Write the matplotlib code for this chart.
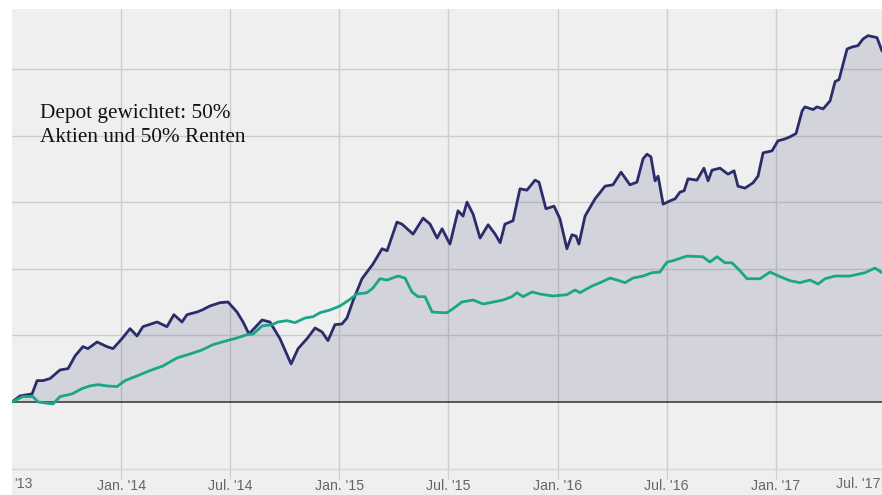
import numpy as np
import matplotlib.pyplot as plt
from matplotlib.patches import Rectangle

# time in decimal years, values in %
depot_t = [2013.500, 2013.537, 2013.592, 2013.615, 2013.642, 2013.674, 2013.720, 2013.757,
           2013.789, 2013.825, 2013.848, 2013.890, 2013.935, 2013.963, 2014.004, 2014.041,
           2014.073, 2014.100, 2014.165, 2014.210, 2014.242, 2014.279, 2014.302, 2014.348,
           2014.371, 2014.407, 2014.453, 2014.490, 2014.531, 2014.559, 2014.586, 2014.646,
           2014.682, 2014.728, 2014.779, 2014.811, 2014.852, 2014.889, 2014.921, 2014.948,
           2014.980, 2015.012, 2015.035, 2015.063, 2015.104, 2015.154, 2015.196, 2015.219,
           2015.264, 2015.287, 2015.338, 2015.384, 2015.416, 2015.448, 2015.471, 2015.507,
           2015.544, 2015.567, 2015.585, 2015.613, 2015.645, 2015.682, 2015.714, 2015.737,
           2015.759, 2015.796, 2015.828, 2015.860, 2015.897, 2015.915, 2015.947, 2015.984,
           2016.011, 2016.043, 2016.066, 2016.085, 2016.098, 2016.126, 2016.172, 2016.218,
           2016.254, 2016.291, 2016.332, 2016.364, 2016.392, 2016.410, 2016.428, 2016.447,
           2016.461, 2016.484, 2016.516, 2016.539, 2016.561, 2016.580, 2016.598, 2016.639,
           2016.671, 2016.690, 2016.708, 2016.745, 2016.781, 2016.809, 2016.827, 2016.859,
           2016.896, 2016.919, 2016.942, 2016.983, 2017.010, 2017.043, 2017.065, 2017.093,
           2017.121, 2017.134, 2017.171, 2017.189, 2017.217, 2017.249, 2017.272, 2017.290,
           2017.327, 2017.350, 2017.377, 2017.400, 2017.423, 2017.464, 2017.487]
depot_v = [0.0, 0.9, 1.2, 3.2, 3.2, 3.5, 4.8, 5.0,
           6.9, 8.3, 8.0, 9.0, 8.3, 8.0, 9.5, 11.0,
           9.9, 11.3, 12.0, 11.3, 13.1, 12.0, 13.1, 13.5,
           13.8, 14.4, 14.9, 15.0, 13.5, 12.0, 10.2, 12.3,
           12.0, 9.5, 5.7, 8.0, 9.5, 11.1, 10.5, 9.2,
           11.6, 11.7, 12.6, 15.2, 18.5, 20.7, 23.0, 22.7,
           27.0, 26.7, 25.2, 27.6, 26.7, 24.6, 26.0, 23.7,
           28.7, 27.9, 30.0, 28.2, 24.6, 26.6, 25.2, 23.9,
           26.7, 27.2, 32.0, 31.8, 33.3, 33.0, 29.0, 29.4,
           27.5, 23.0, 25.1, 24.9, 23.7, 27.9, 30.5, 32.4,
           32.6, 34.5, 32.6, 33.0, 36.5, 37.2, 36.8, 33.2,
           33.9, 29.7, 30.2, 30.5, 31.5, 31.7, 33.5, 33.3,
           35.1, 33.2, 34.8, 35.1, 34.2, 34.7, 32.4, 32.1,
           32.9, 33.9, 37.4, 37.7, 39.2, 39.5, 39.8, 40.3,
           43.7, 44.3, 43.9, 44.3, 44.0, 45.2, 48.1, 48.4,
           53.0, 53.3, 53.5, 54.5, 55.0, 54.7, 52.7]

bench_t = [2013.500, 2013.550, 2013.596, 2013.619, 2013.660, 2013.688, 2013.720, 2013.775,
           2013.821, 2013.857, 2013.894, 2013.935, 2013.981, 2014.018, 2014.073, 2014.132,
           2014.192, 2014.256, 2014.316, 2014.371, 2014.421, 2014.485, 2014.531, 2014.577,
           2014.605, 2014.646, 2014.692, 2014.719, 2014.760, 2014.797, 2014.843, 2014.880,
           2014.912, 2014.957, 2015.003, 2015.040, 2015.081, 2015.127, 2015.154, 2015.186,
           2015.219, 2015.269, 2015.301, 2015.333, 2015.361, 2015.393, 2015.425, 2015.471,
           2015.494, 2015.521, 2015.562, 2015.613, 2015.659, 2015.691, 2015.750, 2015.791,
           2015.814, 2015.842, 2015.883, 2015.920, 2015.979, 2016.043, 2016.080, 2016.103,
           2016.158, 2016.195, 2016.241, 2016.273, 2016.309, 2016.346, 2016.392, 2016.433,
           2016.469, 2016.502, 2016.529, 2016.593, 2016.666, 2016.698, 2016.731, 2016.767,
           2016.799, 2016.836, 2016.868, 2016.928, 2016.974, 2017.020, 2017.066, 2017.111,
           2017.157, 2017.194, 2017.226, 2017.272, 2017.340, 2017.409, 2017.455, 2017.487]
bench_v = [0.0, 0.8, 0.8, 0.0, -0.2, -0.3, 0.8, 1.2,
           2.0, 2.4, 2.6, 2.4, 2.3, 3.2, 3.9, 4.7,
           5.4, 6.6, 7.2, 7.8, 8.6, 9.2, 9.6, 10.1,
           10.2, 11.4, 11.6, 12.0, 12.2, 11.9, 12.6, 12.8,
           13.4, 13.8, 14.4, 15.2, 16.2, 16.4, 17.1, 18.5,
           18.3, 18.9, 18.6, 16.5, 15.8, 15.8, 13.5, 13.4,
           13.4, 14.0, 15.0, 15.3, 14.7, 14.9, 15.3, 15.8,
           16.4, 15.8, 16.5, 16.2, 15.9, 16.1, 16.8, 16.4,
           17.4, 17.9, 18.6, 18.3, 17.9, 18.6, 18.9, 19.4,
           19.5, 21.0, 21.2, 21.9, 21.8, 21.0, 21.8, 20.9,
           20.9, 19.7, 18.5, 18.5, 19.5, 18.8, 18.2, 17.9,
           18.3, 17.7, 18.5, 18.9, 18.9, 19.4, 20.1, 19.4]

tick_pos = [2014.0, 2014.5, 2015.0, 2015.5, 2016.0, 2016.5, 2017.0]
tick_labels = ["Jan. '14", "Jul. '14", "Jan. '15", "Jul. '15", "Jan. '16", "Jul. '16", "Jan. '17"]

bg = '#efefef'
navy = '#2b2d6b'
green = '#1aa688'
gridc = '#cdcdcd'
sans = ['Liberation Sans', 'DejaVu Sans']

fig = plt.figure(figsize=(8.82, 4.95), dpi=100, facecolor='white')
fig.patches.append(Rectangle((12 / 882, 0), 870 / 882, 486 / 495, transform=fig.transFigure,
                             facecolor=bg, edgecolor='none', zorder=-10))
ax = fig.add_axes([12 / 882, 26.5 / 495, 870 / 882, 459.5 / 495])
ax.set_facecolor(bg)

ax.fill_between(depot_t, 0, depot_v, color=navy, alpha=0.14, lw=0, zorder=1)
ax.axhline(0, color='#333333', lw=1.1, zorder=2)
ax.plot(depot_t, depot_v, color=navy, lw=2.0, solid_joinstyle='round', solid_capstyle='round', zorder=3)
ax.plot(bench_t, bench_v, color=green, lw=2.0, solid_joinstyle='round', solid_capstyle='round', zorder=4)

ax.set_xlim(2013.5, 2017.487)
ax.set_ylim(-10, 59.0)
ax.set_yticks([10, 20, 30, 40, 50])
ax.set_yticklabels([])
ax.tick_params(axis='y', length=0)
ax.set_xticks(tick_pos)
ax.set_xticklabels(tick_labels, family=sans)
ax.tick_params(axis='x', length=7, color=gridc, labelsize=10.2, labelcolor='#666666', pad=0.5)
ax.set_axisbelow(True)
ax.grid(True, color=gridc, lw=1.0)

for s in ['top', 'left', 'right']:
    ax.spines[s].set_visible(False)
ax.spines['bottom'].set_color('#ccd6eb')
ax.spines['bottom'].set_linewidth(1.0)

# clipped edge labels
ax.annotate("'13", xy=(0, 0), xycoords='axes fraction', xytext=(2, -15.5),
            textcoords='offset pixels', ha='left', va='center', fontsize=10.2,
            color='#666666', family=sans)
ax.annotate("Jul. '17", xy=(1, 0), xycoords='axes fraction', xytext=(-1, -15.5),
            textcoords='offset pixels', ha='right', va='center', fontsize=10.2,
            color='#666666', family=sans)

ax.text(28 / 870, (468.5 - 104) / 459.5, "Depot gewichtet: 50%\nAktien und 50% Renten",
        transform=ax.transAxes, family=['Liberation Serif'], fontsize=15.3,
        linespacing=1.34, va='top', ha='left', color='#111111')

fig.savefig('out.png', dpi=100, facecolor=fig.get_facecolor())
